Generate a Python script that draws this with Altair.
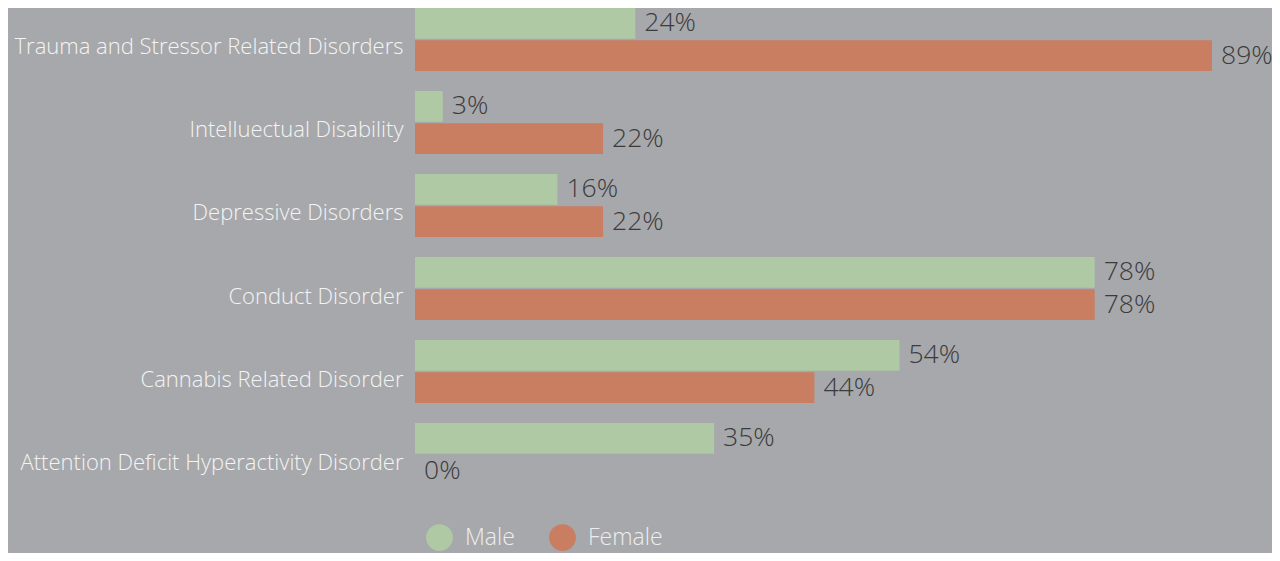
import altair as alt
import pandas as pd

categories = [
    "Trauma and Stressor Related Disorders",
    "Intelluectual Disability",
    "Depressive Disorders",
    "Conduct Disorder",
    "Cannabis Related Disorder",
    "Attention Deficit Hyperactivity Disorder",
]
# bar lengths
male = [24.6, 3.1, 15.9, 75.9, 54.1, 33.4]
female = [89.0, 21.0, 21.0, 75.9, 44.6, 0.0]
# printed labels
male_labels = ["24%", "3%", "16%", "78%", "54%", "35%"]
female_labels = ["89%", "22%", "22%", "78%", "44%", "0%"]
genders = ["Male", "Female"]
colors = ["#aec9a4", "#c97e62"]

rows = []
for c, m, f, ml, fl in zip(categories, male, female, male_labels, female_labels):
    rows.append({"category": c, "gender": "Male", "value": m, "label": ml})
    rows.append({"category": c, "gender": "Female", "value": f, "label": fl})
df = pd.DataFrame(rows)

FONT = "Open Sans"

y_enc = alt.Y(
    "category:N",
    sort=categories,
    scale=alt.Scale(paddingInner=0.241, paddingOuter=0),
    axis=alt.Axis(
        title=None, domain=False, ticks=False, grid=False,
        labelFontSize=22, labelColor="#f4f4f4", labelFont=FONT,
        labelFontWeight=300, labelPadding=12, labelLimit=600, labelOffset=8,
    ),
)
yoff = alt.YOffset("gender:N", sort=genders,
                   scale=alt.Scale(paddingInner=0.05, paddingOuter=0))
x_enc = alt.X("value:Q", scale=alt.Scale(domain=[0, 95.7], nice=False), axis=None)

bars = alt.Chart(df).mark_bar(cornerRadius=0).encode(
    y=y_enc,
    yOffset=yoff,
    x=x_enc,
    color=alt.Color(
        "gender:N",
        scale=alt.Scale(domain=genders, range=colors),
        legend=alt.Legend(
            title=None, orient="none", direction="horizontal",
            legendX=11, legendY=516, symbolType="circle", symbolSize=720,
            symbolStrokeWidth=0, labelFontSize=23, labelColor="#eeeeee",
            labelFont=FONT, labelFontWeight=300, columnPadding=34,
            labelOffset=12,
        ),
    ),
)

texts = alt.Chart(df).mark_text(
    align="left", baseline="middle", dx=9, fontSize=26.5,
    color="#3b3b3b", font=FONT, fontWeight=300,
).encode(
    y=alt.Y("category:N", sort=categories),
    yOffset=yoff,
    x=x_enc,
    text="label:N",
)

chart = (
    alt.layer(bars, texts)
    .properties(
        width=857, height=478,
        padding={"left": 407, "top": 0, "right": 0, "bottom": 67},
        autosize=alt.AutoSizeParams(type="none"),
        background="#a7a8ab",
    )
    .configure_view(stroke=None)
)

chart.save("out.html", embed_options={"renderer": "svg", "actions": False})
